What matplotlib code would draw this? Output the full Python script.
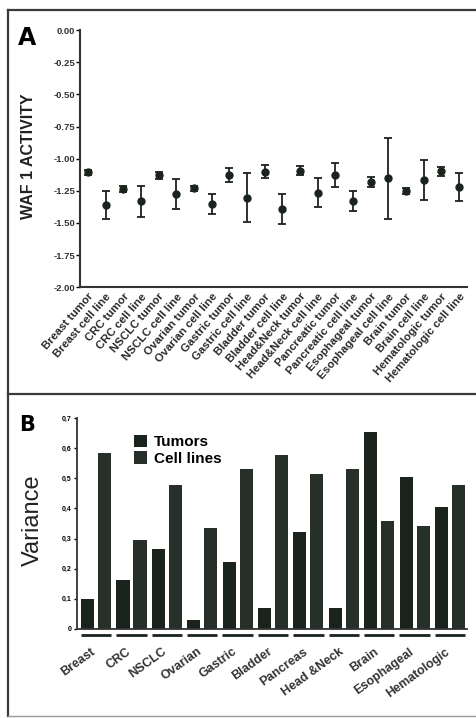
import matplotlib.pyplot as plt
from matplotlib.lines import Line2D

plt.rcParams['font.family'] = ['Liberation Sans', 'DejaVu Sans']

# panel A: WAF1 activity per tumor / cell line
labels_a = ["Breast tumor", "Breast cell line", "CRC tumor", "CRC cell line",
            "NSCLC tumor", "NSCLC cell line", "Ovarian tumor", "Ovarian cell line",
            "Gastric tumor", "Gastric cell line", "Bladder tumor", "Bladder cell line",
            "Head&Neck tumor", "Head&Neck cell line", "Pancreatic tumor",
            "Pancreatic cell line", "Esophageal tumor", "Esophageal cell line",
            "Brain tumor", "Brain cell line", "Hematologic tumor", "Hematologic cell line"]
activity = [-1.106, -1.36, -1.236, -1.33, -1.13, -1.275, -1.23, -1.352,
            -1.13, -1.303, -1.10, -1.394, -1.093, -1.264, -1.127, -1.329,
            -1.181, -1.153, -1.251, -1.166, -1.096, -1.223]
activity_err = [0.02, 0.11, 0.02, 0.12, 0.025, 0.115, 0.02, 0.078,
                0.055, 0.19, 0.05, 0.118, 0.037, 0.114, 0.095, 0.08,
                0.04, 0.317, 0.025, 0.153, 0.035, 0.109]
yticks_a = [0.0, -0.25, -0.5, -0.75, -1.0, -1.25, -1.5, -1.75, -2.0]

# panel B: variance per tumor type
groups = ["Breast", "CRC", "NSCLC", "Ovarian", "Gastric", "Bladder", "Pancreas",
          "Head &Neck", "Brain", "Esophageal", "Hematologic"]
var_tumors = [0.10, 0.164, 0.264, 0.031, 0.221, 0.07, 0.323, 0.07, 0.652, 0.505, 0.403]
var_cells = [0.582, 0.296, 0.477, 0.335, 0.529, 0.578, 0.515, 0.531, 0.358, 0.343, 0.479]
yticks_b = [0, 0.1, 0.2, 0.3, 0.4, 0.5, 0.6, 0.7]
yticklabels_b = ["0", "0,1", "0,2", "0,3", "0,4", "0,5", "0,6", "0,7"]

ink = "#1b231d"

fig = plt.figure(figsize=(4.76, 7.18), dpi=100)

# ---- panel A ----
ax1 = fig.add_axes([0.168, 0.600, 0.813, 0.358])
x = list(range(len(labels_a)))
ax1.errorbar(x, activity, yerr=activity_err, fmt="o", color=ink, ms=5,
             capsize=3, elinewidth=1.3, capthick=1.3)
ax1.set_xlim(-0.45, 21.45)
ax1.set_ylim(-2.0, 0.0)
ax1.set_yticks(yticks_a)
ax1.set_yticklabels([f"{v:.2f}" for v in yticks_a], fontsize=6.8, fontweight="bold",
                    color="#333333")
ax1.set_xticks(x)
ax1.set_xticklabels(labels_a, rotation=49, ha="right", rotation_mode="anchor",
                    fontsize=8.2, fontweight="bold", color="#2a2a2a")
ax1.tick_params(axis="x", length=0, pad=3)
ax1.tick_params(axis="y", length=3, width=1, direction="out", pad=0.5)
for s in ["top", "right"]:
    ax1.spines[s].set_visible(False)
for s in ["left", "bottom"]:
    ax1.spines[s].set_linewidth(1.5)
    ax1.spines[s].set_color("#333333")

fig.text(0.059, 1 - 156 / 718, "WAF 1 ACTIVITY", rotation=90, ha="center",
         va="center", fontsize=11.5, fontweight="bold", color="#222222")
fig.text(0.057, 1 - 38 / 718, "A", ha="center", va="center", fontsize=17,
         fontweight="bold", family=["Liberation Sans Narrow", "DejaVu Sans"])

# ---- panel B ----
ax2 = fig.add_axes([0.162, 0.124, 0.819, 0.294])
gx = list(range(len(groups)))
w = 0.37
ax2.bar([g - 0.24 for g in gx], var_tumors, width=w, color=ink, label="Tumors")
ax2.bar([g + 0.24 for g in gx], var_cells, width=w, color="#263028", label="Cell lines")
for g in gx:
    ax2.plot([g - 0.43, g + 0.43], [-0.019, -0.019], color=ink, lw=2,
             clip_on=False, solid_capstyle="butt")
ax2.set_xlim(-0.537, 10.48)
ax2.set_ylim(0, 0.7)
ax2.set_yticks(yticks_b)
ax2.set_yticklabels(yticklabels_b, fontsize=5, fontweight="bold")
ax2.set_xticks([g - 0.15 for g in gx])
ax2.set_xticklabels(groups, rotation=36, ha="right", rotation_mode="anchor",
                    fontsize=9, fontweight="bold", color="#333333")
ax2.tick_params(axis="x", length=0, pad=12)
ax2.tick_params(axis="y", length=2, width=1, pad=2)
for s in ["top", "right"]:
    ax2.spines[s].set_visible(False)
for s in ["left", "bottom"]:
    ax2.spines[s].set_linewidth(1.3)
    ax2.spines[s].set_color("#333333")
ax2.legend(loc="upper left", bbox_to_anchor=(0.11, 0.985), frameon=False,
           handlelength=0.9, handleheight=0.9, handletextpad=0.4,
           labelspacing=0.1, prop={"size": 11, "weight": "bold"})

fig.text(0.070, 1 - 520 / 718, "Variance", rotation=90, ha="center", va="center",
         fontsize=17, color="#222222")
fig.text(0.057, 1 - 425 / 718, "B", ha="center", va="center", fontsize=15,
         fontweight="bold", family=["Liberation Sans Narrow", "DejaVu Sans"])

# frame around the two panels
frame = dict(color="#3a3a3a", lw=1.6, transform=fig.transFigure)
x0 = 8 / 476
fig.add_artist(Line2D([x0, 1], [1 - 10 / 718, 1 - 10 / 718], **frame))
fig.add_artist(Line2D([x0, x0], [1 - 10 / 718, 1 - 716 / 718], **frame))
fig.add_artist(Line2D([x0, 1], [1 - 394 / 718, 1 - 394 / 718], **frame))
fig.add_artist(Line2D([x0, 1], [1 - 716 / 718, 1 - 716 / 718], color="#999999",
                      lw=1, transform=fig.transFigure))

fig.savefig("out.png", dpi=100)
